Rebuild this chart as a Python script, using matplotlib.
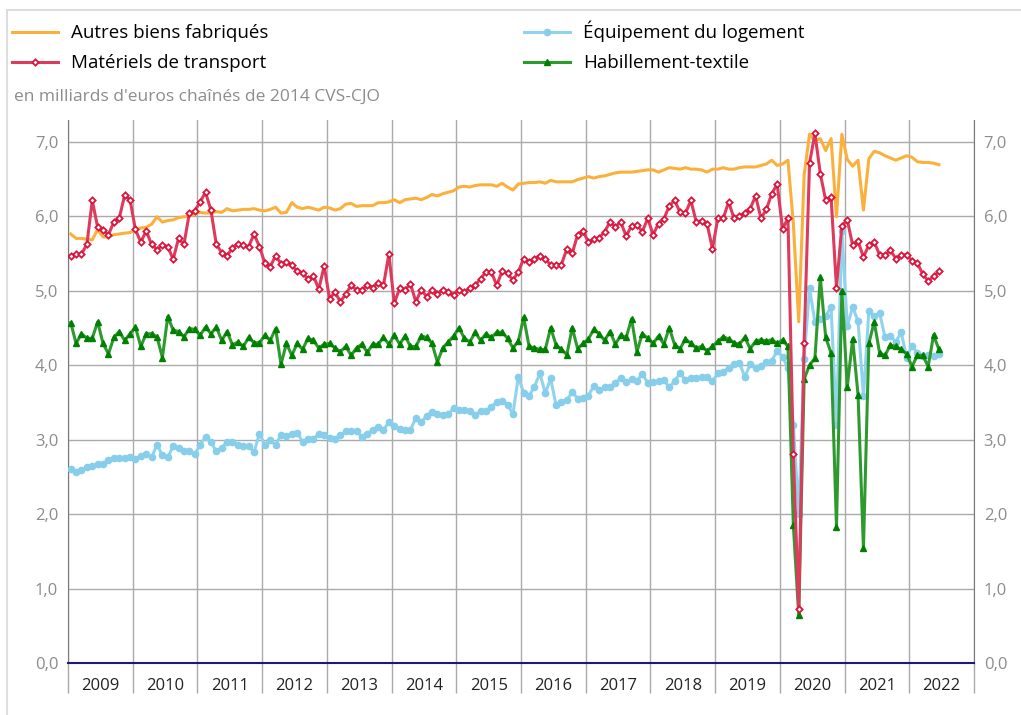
import numpy as np
import matplotlib
matplotlib.use("Agg")
import matplotlib.pyplot as plt
from matplotlib.patches import Rectangle
from matplotlib.ticker import FuncFormatter

plt.rcParams['font.family'] = ['Open Sans', 'DejaVu Sans']

# donnees mensuelles, janvier 2009 -> juin 2022 (milliards d'euros chaines de 2014)
annees = list(range(2009, 2023))
debut = 2009

autres_biens = [
    5.76, 5.70, 5.70, 5.69, 5.68, 5.82, 5.72, 5.72, 5.75, 5.76, 5.77, 5.78,
    5.81, 5.84, 5.85, 5.89, 5.99, 5.92, 5.94, 5.95, 5.98, 5.99, 6.00, 6.03,
    6.05, 6.04, 6.04, 6.06, 6.05, 6.10, 6.07, 6.08, 6.09, 6.09, 6.10, 6.08,
    6.07, 6.09, 6.12, 6.04, 6.05, 6.18, 6.12, 6.10, 6.12, 6.10, 6.08, 6.12,
    6.11, 6.08, 6.10, 6.16, 6.17, 6.13, 6.14, 6.14, 6.14, 6.18, 6.18, 6.19,
    6.22, 6.18, 6.22, 6.23, 6.24, 6.22, 6.25, 6.29, 6.27, 6.30, 6.32, 6.34,
    6.39, 6.40, 6.39, 6.41, 6.42, 6.42, 6.42, 6.40, 6.44, 6.39, 6.35, 6.43,
    6.44, 6.45, 6.45, 6.46, 6.44, 6.48, 6.46, 6.46, 6.46, 6.46, 6.49, 6.51,
    6.53, 6.51, 6.53, 6.54, 6.56, 6.58, 6.59, 6.59, 6.59, 6.60, 6.61, 6.62,
    6.62, 6.59, 6.62, 6.65, 6.64, 6.63, 6.65, 6.63, 6.63, 6.62, 6.59, 6.63,
    6.63, 6.65, 6.63, 6.63, 6.65, 6.66, 6.66, 6.66, 6.68, 6.70, 6.75, 6.68,
    6.70, 6.75, 5.90, 4.58, 6.55, 7.10, 7.01, 7.04, 6.88, 7.04, 5.99, 7.10,
    6.76, 6.67, 6.75, 6.08, 6.77, 6.87, 6.85, 6.81, 6.78, 6.75, 6.78, 6.81,
    6.79, 6.73, 6.72, 6.72, 6.71, 6.69,
]

materiels_transport = [
    5.47, 5.49, 5.49, 5.62, 6.21, 5.85, 5.81, 5.75, 5.92, 5.97, 6.28, 6.22,
    5.82, 5.65, 5.80, 5.62, 5.55, 5.61, 5.59, 5.42, 5.70, 5.62, 6.04, 6.07,
    6.19, 6.32, 6.08, 5.62, 5.51, 5.47, 5.57, 5.63, 5.61, 5.59, 5.76, 5.59,
    5.37, 5.32, 5.47, 5.36, 5.39, 5.34, 5.26, 5.24, 5.15, 5.20, 5.02, 5.33,
    4.89, 4.98, 4.85, 4.95, 5.07, 5.01, 5.01, 5.07, 5.04, 5.10, 5.07, 5.49,
    4.83, 5.03, 5.01, 5.09, 4.85, 5.01, 4.92, 5.01, 4.96, 5.01, 4.98, 4.94,
    5.01, 4.98, 5.03, 5.07, 5.16, 5.25, 5.25, 5.07, 5.26, 5.23, 5.14, 5.25,
    5.43, 5.38, 5.43, 5.47, 5.43, 5.34, 5.35, 5.35, 5.56, 5.50, 5.75, 5.80,
    5.65, 5.69, 5.71, 5.79, 5.92, 5.86, 5.92, 5.73, 5.87, 5.88, 5.79, 5.97,
    5.75, 5.90, 5.96, 6.14, 6.21, 6.05, 6.04, 6.21, 5.92, 5.94, 5.90, 5.56,
    5.97, 5.97, 6.19, 5.97, 6.00, 6.04, 6.10, 6.27, 5.97, 6.09, 6.30, 6.43,
    5.83, 5.97, 2.80, 0.72, 4.30, 6.71, 7.11, 6.57, 6.21, 6.25, 5.04, 5.87,
    5.95, 5.61, 5.66, 5.45, 5.61, 5.65, 5.48, 5.48, 5.54, 5.43, 5.48, 5.48,
    5.40, 5.37, 5.22, 5.13, 5.19, 5.26,
]

equipement_logement = [
    2.61, 2.57, 2.59, 2.63, 2.64, 2.67, 2.67, 2.73, 2.75, 2.75, 2.75, 2.76,
    2.74, 2.78, 2.80, 2.76, 2.93, 2.79, 2.76, 2.91, 2.89, 2.85, 2.85, 2.80,
    2.93, 3.04, 2.97, 2.84, 2.89, 2.97, 2.97, 2.93, 2.91, 2.91, 2.83, 3.08,
    2.93, 2.99, 2.93, 3.06, 3.05, 3.07, 3.09, 2.97, 3.01, 3.01, 3.07, 3.06,
    3.02, 3.01, 3.06, 3.11, 3.11, 3.11, 3.04, 3.08, 3.13, 3.17, 3.13, 3.23,
    3.18, 3.14, 3.13, 3.13, 3.29, 3.23, 3.32, 3.37, 3.34, 3.33, 3.34, 3.42,
    3.40, 3.40, 3.38, 3.33, 3.38, 3.38, 3.44, 3.50, 3.52, 3.47, 3.34, 3.84,
    3.63, 3.59, 3.71, 3.89, 3.62, 3.82, 3.46, 3.51, 3.53, 3.64, 3.55, 3.56,
    3.59, 3.72, 3.66, 3.70, 3.70, 3.76, 3.83, 3.77, 3.81, 3.79, 3.88, 3.76,
    3.77, 3.78, 3.80, 3.70, 3.79, 3.89, 3.80, 3.82, 3.83, 3.84, 3.84, 3.78,
    3.89, 3.91, 3.96, 4.01, 4.03, 3.84, 4.01, 3.96, 3.99, 4.04, 4.06, 4.19,
    4.11, 3.96, 3.20, 2.00, 4.08, 5.03, 4.58, 4.62, 4.66, 4.78, 3.20, 5.80,
    4.52, 4.78, 4.59, 3.58, 4.72, 4.66, 4.70, 4.37, 4.39, 4.31, 4.44, 4.10,
    4.26, 4.16, 4.12, 4.13, 4.12, 4.15,
]

habillement_textile = [
    4.57, 4.29, 4.42, 4.36, 4.36, 4.58, 4.29, 4.15, 4.37, 4.45, 4.33, 4.42,
    4.51, 4.25, 4.42, 4.42, 4.38, 4.10, 4.65, 4.47, 4.45, 4.38, 4.49, 4.48,
    4.40, 4.51, 4.42, 4.51, 4.33, 4.45, 4.27, 4.31, 4.25, 4.37, 4.30, 4.30,
    4.40, 4.33, 4.49, 4.01, 4.29, 4.13, 4.29, 4.21, 4.36, 4.33, 4.23, 4.28,
    4.29, 4.23, 4.18, 4.25, 4.13, 4.23, 4.28, 4.17, 4.28, 4.28, 4.37, 4.28,
    4.40, 4.28, 4.39, 4.25, 4.25, 4.39, 4.37, 4.29, 4.04, 4.23, 4.31, 4.39,
    4.50, 4.36, 4.31, 4.44, 4.33, 4.42, 4.37, 4.44, 4.44, 4.36, 4.23, 4.32,
    4.64, 4.25, 4.23, 4.21, 4.21, 4.50, 4.27, 4.21, 4.14, 4.50, 4.22, 4.29,
    4.35, 4.48, 4.42, 4.33, 4.45, 4.28, 4.40, 4.37, 4.62, 4.18, 4.42, 4.36,
    4.29, 4.39, 4.28, 4.50, 4.27, 4.22, 4.35, 4.29, 4.23, 4.25, 4.19, 4.25,
    4.32, 4.38, 4.35, 4.30, 4.28, 4.37, 4.22, 4.32, 4.34, 4.32, 4.34, 4.29,
    4.34, 4.25, 1.85, 0.64, 3.81, 4.00, 4.09, 5.18, 4.37, 4.16, 1.83, 5.00,
    3.71, 4.35, 3.60, 1.54, 4.29, 4.58, 4.16, 4.13, 4.27, 4.25, 4.21, 4.15,
    3.98, 4.13, 4.13, 3.98, 4.40, 4.21,
]

# position de chaque mois au milieu de sa case
mois = debut + (np.arange(len(autres_biens)) + 0.5) / 12

W, H = 1021, 715
fig = plt.figure(figsize=(W / 100, H / 100), dpi=100)
ax = fig.add_axes([68 / W, 1 - 663 / H, (974 - 68) / W, (663 - 120) / H])

l_orange, = ax.plot(mois, autres_biens, color="#fbb03b", lw=2.2, zorder=3,
                    label="Autres biens fabriqués")
l_bleu, = ax.plot(mois, equipement_logement, color="#8fd3ee", lw=2.2, marker="o",
                  ms=4.5, mfc="#87ceeb", mec="#87ceeb", zorder=4,
                  label="Équipement du logement")
l_vert, = ax.plot(mois, habillement_textile, color="#2e9a2e", lw=2.2, marker="^",
                  ms=5, mfc="#008000", mec="#008000", zorder=5,
                  label="Habillement-textile")
l_rouge, = ax.plot(mois, materiels_transport, color="#de3a5c", lw=2.2, marker="D",
                   ms=3.2, mfc="white", mec="#dc143c", mew=1.3, zorder=6,
                   label="Matériels de transport")

ax.set_xlim(debut, annees[-1] + 1)
ax.set_ylim(0, 7.29)

# grille annuelle + bande des annees
ax.set_xticks(range(debut, annees[-1] + 2))
ax.set_xticks([a + 0.5 for a in annees], minor=True)
ax.set_xticklabels([])
ax.set_xticklabels([str(a) for a in annees], minor=True)
ax.tick_params(axis="x", which="major", length=21.6, width=1, color="#aaaaaa",
               direction="out")
ax.tick_params(axis="x", which="minor", length=0, pad=10.5, labelsize=12,
               labelcolor="#222222")
ax.grid(axis="x", which="major", color="#aaaaaa", lw=1)

ax.set_yticks(np.arange(0, 8, 1.0))
ax.yaxis.set_major_formatter(FuncFormatter(lambda v, p: f"{v:.1f}".replace(".", ",")))
ax.tick_params(axis="y", length=0, pad=7, labelsize=12, labelcolor="#8c8c8c",
               labelright=True)
ax.grid(axis="y", color="#aaaaaa", lw=1)
ax.set_axisbelow(True)

ax.spines["top"].set_visible(False)
for s in ("left", "right"):
    ax.spines[s].set_color("#777777")
ax.spines["bottom"].set_color("#1a1a7a")
ax.spines["bottom"].set_linewidth(1.5)
ax.spines["bottom"].set_zorder(7)

# cadre exterieur
fig.add_artist(Rectangle((7 / W, -0.1), 2, 1.1 - 10 / H, transform=fig.transFigure,
                         fill=False, ec="#dddddd", lw=1.5))

fig.legend(handles=[l_orange, l_rouge, l_bleu, l_vert], ncol=2, loc="upper left",
           bbox_to_anchor=(12 / W, 1 - 21 / H), frameon=False, fontsize=13.5,
           handlelength=2.45, handletextpad=0.72, columnspacing=13.6,
           labelspacing=0.62, borderpad=0, borderaxespad=0)

fig.text(14 / W, 1 - 97 / H, "en milliards d'euros chaînés de 2014 CVS-CJO",
         fontsize=12.5, color="#8c8c8c", va="center", ha="left")

fig.savefig("out.png", dpi=100)
plt.close(fig)
